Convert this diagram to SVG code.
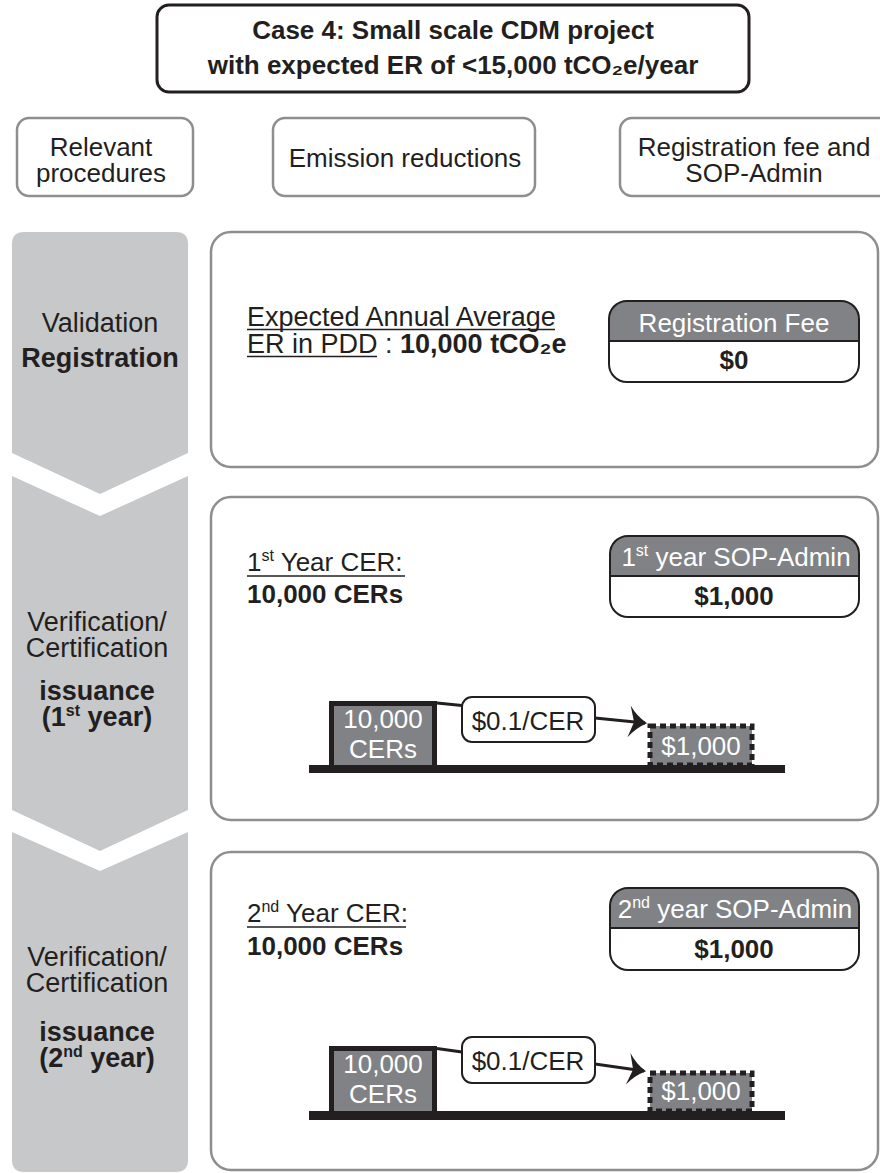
<svg xmlns="http://www.w3.org/2000/svg" width="880" height="1173" viewBox="0 0 880 1173">
<style>
text{font-family:"Liberation Sans","DejaVu Sans",Arial,sans-serif;fill:#231f20;font-size:26px}
.b{font-weight:bold}
.c{text-anchor:middle}
.w{fill:#ffffff}
.l{font-size:27px}
.hdr{fill:#ffffff;stroke:#8d8e90;stroke-width:2.5}
.panel{fill:#ffffff;stroke:#8d8e90;stroke-width:2.5}
.chev{fill:#c7c8ca}
.fee{fill:none;stroke:#231f20;stroke-width:2}
.feeh{fill:#808285}
.ul{stroke:#231f20;stroke-width:1.6}
.blk{fill:#231f20}
.gry{fill:#808285}
.dash{fill:#808285;stroke:#231f20;stroke-width:5;stroke-dasharray:6 4}
.lbl{fill:#ffffff;stroke:#231f20;stroke-width:2}
.con{fill:none;stroke:#231f20;stroke-width:2.8}
</style>
<defs>
<marker id="arr" markerUnits="userSpaceOnUse" viewBox="-20 -18 22 36" refX="0" refY="0" markerWidth="22" markerHeight="36" orient="auto">
<path d="M2,0 Q-9,-6 -16,-16 L-11,0 L-16,16 Q-9,6 2,0 Z" fill="#231f20"/>
</marker>
</defs>

<g id="title">
<rect x="157" y="5" width="592" height="87" rx="12" fill="#ffffff" stroke="#231f20" stroke-width="3"/>
<text class="b c" x="453" y="39" font-size="26.5">Case 4: Small scale CDM project</text>
<text class="b c" x="453" y="74" font-size="26.5">with expected ER of &lt;15,000 tCO₂e/year</text>
</g>

<g id="hdr-procedures">
<rect class="hdr" x="17" y="118" width="176" height="78" rx="12"/>
<text class="c" x="101" y="156">Relevant</text>
<text class="c" x="101" y="182">procedures</text>
</g>
<g id="hdr-emission">
<rect class="hdr" x="273" y="118" width="262" height="78" rx="12"/>
<text class="c" x="405" y="167">Emission reductions</text>
</g>
<g id="hdr-fee">
<rect class="hdr" x="620" y="118" width="272" height="78" rx="12"/>
<text class="c" x="754" y="156">Registration fee and</text>
<text class="c" x="754" y="182">SOP-Admin</text>
</g>

<g id="step-validation">
<path class="chev" d="M12,244 Q12,232 24,232 L176,232 Q188,232 188,244 L188,453 L100,494 L12,453 Z"/>
<text class="c l" x="100" y="332">Validation</text>
<text class="b c l" x="100" y="367">Registration</text>
</g>
<g id="step-year1">
<path class="chev" d="M12,476 L100,516 L188,476 L188,810 L100,851 L12,810 Z"/>
<text class="c l" x="97" y="631">Verification/</text>
<text class="c l" x="97" y="657">Certification</text>
<text class="b c l" x="97" y="700">issuance</text>
<text class="b c l" x="97" y="726">(1<tspan font-size="16" dy="-10">st</tspan><tspan dy="10"> year)</tspan></text>
</g>
<g id="step-year2">
<path class="chev" d="M12,832 L100,871 L188,832 L188,1160 Q188,1172 176,1172 L24,1172 Q12,1172 12,1160 Z"/>
<text class="c l" x="97" y="966">Verification/</text>
<text class="c l" x="97" y="992">Certification</text>
<text class="b c l" x="97" y="1041">issuance</text>
<text class="b c l" x="97" y="1067">(2<tspan font-size="16" dy="-10">nd</tspan><tspan dy="10"> year)</tspan></text>
</g>

<g id="panel-registration">
<rect class="panel" x="211" y="232" width="667" height="235" rx="20"/>
<text class="l" x="247" y="326">Expected Annual Average</text>
<line class="ul" x1="247" y1="329.5" x2="555" y2="329.5"/>
<text class="l" x="247" y="353">ER in PDD : <tspan class="b">10,000 tCO₂e</tspan></text>
<line class="ul" x1="247" y1="356.5" x2="377" y2="356.5"/>
</g>
<g id="fee-registration">
<path class="feeh" d="M609,341 L609,319 Q609,301 627,301 L841,301 Q859,301 859,319 L859,341 Z"/>
<line class="fee" x1="609" y1="341" x2="859" y2="341"/>
<rect class="fee" x="609" y="301" width="250" height="81" rx="18"/>
<text class="c w" x="734" y="332" font-size="26.8">Registration Fee</text>
<text class="b c" x="734" y="369" font-size="26.5">$0</text>
</g>

<g id="panel-year1">
<rect class="panel" x="211" y="497" width="667" height="323" rx="20"/>
<text x="247" y="571">1<tspan font-size="16" dy="-10">st</tspan><tspan dy="10"> Year CER:</tspan></text>
<line class="ul" x1="247" y1="576" x2="405" y2="576"/>
<text class="b" x="247" y="603" font-size="26.5">10,000 CERs</text>
</g>
<g id="fee-year1">
<path class="feeh" d="M610,576 L610,554 Q610,536 628,536 L841,536 Q859,536 859,554 L859,576 Z"/>
<line class="fee" x1="610" y1="576" x2="859" y2="576"/>
<rect class="fee" x="610" y="536" width="249" height="81" rx="18"/>
<text class="c w" x="736" y="566" font-size="26.5">1<tspan font-size="16" dy="-10">st</tspan><tspan dy="10"> year SOP-Admin</tspan></text>
<text class="b c" x="734" y="605" font-size="26.5">$1,000</text>
</g>
<g id="ground-year1">
<rect class="blk" x="309" y="765" width="476" height="8"/>
</g>
<g id="cers-year1">
<rect class="blk" x="329" y="701" width="108" height="66"/>
<rect class="gry" x="334" y="706" width="98" height="59"/>
<text class="c w" x="383" y="728">10,000</text>
<text class="c w" x="383" y="758">CERs</text>
</g>
<g id="rate-year1">
<rect class="lbl" x="462" y="697" width="133" height="45" rx="10"/>
<text class="c" x="528" y="730">$0.1/CER</text>
</g>
<g id="sop-year1">
<rect class="dash" x="650" y="726" width="102" height="39"/>
<text class="c w" x="701" y="755">$1,000</text>
</g>

<g id="panel-year2">
<rect class="panel" x="211" y="852" width="667" height="318" rx="20"/>
<text x="247" y="922">2<tspan font-size="16" dy="-10">nd</tspan><tspan dy="10"> Year CER:</tspan></text>
<line class="ul" x1="247" y1="927" x2="406" y2="927"/>
<text class="b" x="247" y="955" font-size="26.5">10,000 CERs</text>
</g>
<g id="fee-year2">
<path class="feeh" d="M610,928 L610,906 Q610,888 628,888 L841,888 Q859,888 859,906 L859,928 Z"/>
<line class="fee" x1="610" y1="928" x2="859" y2="928"/>
<rect class="fee" x="610" y="888" width="249" height="82" rx="18"/>
<text class="c w" x="735" y="918" font-size="26.5">2<tspan font-size="16" dy="-10">nd</tspan><tspan dy="10"> year SOP-Admin</tspan></text>
<text class="b c" x="734" y="958" font-size="26.5">$1,000</text>
</g>
<g id="ground-year2">
<rect class="blk" x="309" y="1111" width="476" height="9"/>
</g>
<g id="cers-year2">
<rect class="blk" x="329" y="1046" width="108" height="67"/>
<rect class="gry" x="334" y="1051" width="98" height="60"/>
<text class="c w" x="383" y="1073">10,000</text>
<text class="c w" x="383" y="1103">CERs</text>
</g>
<g id="rate-year2">
<rect class="lbl" x="462" y="1037" width="133" height="46" rx="10"/>
<text class="c" x="528" y="1070">$0.1/CER</text>
</g>
<g id="sop-year2">
<rect class="dash" x="650" y="1073" width="102" height="38"/>
<text class="c w" x="701" y="1100">$1,000</text>
</g>

<g id="connectors">
<line class="con" x1="437" y1="703" x2="462" y2="705.5"/>
<line class="con" x1="595" y1="718" x2="645" y2="723" marker-end="url(#arr)"/>
<line class="con" x1="437" y1="1048.5" x2="462" y2="1052"/>
<line class="con" x1="595" y1="1064" x2="644" y2="1071" marker-end="url(#arr)"/>
</g>
</svg>
